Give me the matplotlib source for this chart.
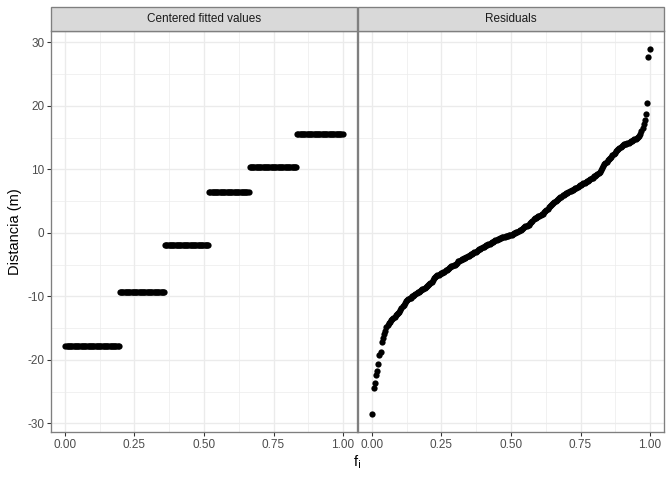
import numpy as np
import matplotlib
matplotlib.use("Agg")
import matplotlib.pyplot as plt
from matplotlib.patches import Rectangle

plt.rcParams['font.family'] = ['Liberation Sans', 'DejaVu Sans']
plt.rcParams['axes.unicode_minus'] = False

# fitted values: one level per group and how many observations it has
fitted_levels = [-17.9, -9.25, -1.93, 6.43, 10.35, 15.48]
fitted_counts = [47, 39, 38, 35, 41, 40]

# residuals (sorted)
residuals = [
    -28.5, -24.4, -23.6, -22.4, -21.8, -20.6, -19.3, -18.8, -17.2, -16.5, -15.9, -15.4,
    -14.8, -14.5, -14.2, -14.0, -13.8, -13.6, -13.4, -13.2, -13.0, -12.8, -12.6, -12.4,
    -12.1, -11.8, -11.6, -11.3, -11.0, -10.8, -10.6, -10.5, -10.3, -10.2, -10.0, -9.9,
    -9.8, -9.7, -9.5, -9.4, -9.3, -9.1, -9.0, -8.9, -8.8, -8.7, -8.6, -8.4,
    -8.2, -8.0, -7.9, -7.7, -7.4, -7.1, -6.9, -6.8, -6.7, -6.6, -6.5, -6.4,
    -6.3, -6.2, -6.1, -5.9, -5.8, -5.7, -5.5, -5.4, -5.3, -5.2, -5.1, -5.0,
    -4.9, -4.7, -4.5, -4.4, -4.3, -4.2, -4.1, -4.0, -3.9, -3.8, -3.7, -3.6,
    -3.5, -3.4, -3.3, -3.2, -3.1, -3.0, -2.9, -2.7, -2.6, -2.5, -2.4, -2.3,
    -2.2, -2.1, -2.0, -1.9, -1.8, -1.7, -1.6, -1.5, -1.4, -1.3, -1.2, -1.1,
    -1.0, -0.95, -0.9, -0.8, -0.7, -0.65, -0.6, -0.55, -0.5, -0.45, -0.4, -0.35,
    -0.3, -0.2, -0.1, 0.0, 0.1, 0.2, 0.3, 0.4, 0.5, 0.6, 0.7, 0.9,
    1.0, 1.1, 1.2, 1.3, 1.5, 1.7, 1.9, 2.1, 2.3, 2.4, 2.5, 2.6,
    2.7, 2.8, 2.9, 3.0, 3.2, 3.4, 3.6, 3.8, 4.0, 4.2, 4.4, 4.6,
    4.7, 4.8, 5.0, 5.2, 5.3, 5.5, 5.6, 5.7, 5.9, 6.0, 6.1, 6.2,
    6.3, 6.4, 6.5, 6.6, 6.7, 6.8, 6.9, 7.0, 7.1, 7.2, 7.4, 7.5,
    7.6, 7.7, 7.8, 7.9, 8.0, 8.1, 8.2, 8.3, 8.5, 8.6, 8.7, 8.9,
    9.0, 9.1, 9.2, 9.4, 9.6, 9.9, 10.2, 10.5, 10.8, 11.0, 11.2, 11.4,
    11.6, 11.8, 12.0, 12.2, 12.4, 12.6, 12.8, 13.0, 13.2, 13.4, 13.5, 13.7,
    13.8, 13.9, 13.95, 14.0, 14.1, 14.2, 14.3, 14.4, 14.5, 14.6, 14.7, 14.8,
    14.9, 15.1, 15.3, 15.6, 16.0, 16.5, 17.2, 17.8, 18.7, 20.5, 27.7, 28.9,
]

panel_titles = ["Centered fitted values", "Residuals"]
x_ticks = [0, 0.25, 0.5, 0.75, 1.0]
x_tick_labels = ["0.00", "0.25", "0.50", "0.75", "1.00"]
y_ticks = [-30, -20, -10, 0, 10, 20, 30]
y_label = "Distancia (m)"

fitted = np.repeat(fitted_levels, fitted_counts)
resid = np.sort(np.array(residuals))
series = [fitted, resid]

# y range shared by both panels, ggplot style 5% expansion
lo = min(fitted.min(), resid.min())
hi = max(fitted.max(), resid.max())
pad = 0.05 * (hi - lo)

W, H = 672, 480
fig = plt.figure(figsize=(7, 5), dpi=96)

grid_col = "#EBEBEB"
border_col = "#333333"
text_col = "#4D4D4D"

panel_x = [(51, 357), (358, 664)]
top, bottom = 31, 432
strip_top = 7

for k, (x0, x1) in enumerate(panel_x):
    ax = fig.add_axes([x0 / W, 1 - bottom / H, (x1 - x0) / W, (bottom - top) / H])
    vals = series[k]
    n = len(vals)
    f = (np.arange(1, n + 1) - 0.5) / n
    pts = ax.scatter(f, vals, s=22, color="black", linewidths=0, zorder=3)
    pts.set_snap(False)

    ax.set_xlim(-0.05, 1.05)
    ax.set_ylim(lo - pad, hi + pad)
    ax.set_xticks(x_ticks)
    ax.set_xticklabels(x_tick_labels)
    ax.set_xticks(np.arange(0.125, 1.0, 0.25), minor=True)
    ax.set_yticks(y_ticks)
    ax.set_yticks(np.arange(-25, 30, 10), minor=True)
    ax.grid(True, which="major", color=grid_col, linewidth=1.0, zorder=0)
    ax.grid(True, which="minor", color=grid_col, linewidth=0.5, zorder=0)
    ax.set_axisbelow(True)
    ax.tick_params(which="major", length=3, width=0.8, color=border_col,
                   labelsize=8.8, labelcolor=text_col, pad=2)
    ax.tick_params(which="minor", length=0)
    for sp in ax.spines.values():
        sp.set_color("#7F7F7F")
        sp.set_linewidth(1.0)
    if k == 0:
        ax.set_ylabel(y_label, fontsize=11, color="black", labelpad=4)
    else:
        ax.tick_params(axis="y", which="major", length=0, labelleft=False)

    # facet strip
    sax = fig.add_axes([x0 / W, 1 - top / H, (x1 - x0) / W, (top - strip_top) / H])
    sax.set_xlim(0, 1)
    sax.set_ylim(0, 1)
    sax.axis("off")
    sax.add_patch(Rectangle((0, 0), 1, 1, facecolor="#D9D9D9", edgecolor="#7F7F7F",
                            linewidth=1.0, transform=sax.transAxes, clip_on=False))
    sax.text(0.5, 0.5, panel_titles[k], ha="center", va="center",
             fontsize=8.8, color="#1A1A1A")

fig.text(357 / W, 1 - 462 / H, r"f$_\mathrm{i}$", ha="center", va="center",
         fontsize=11, color="black")

fig.savefig("out.png", dpi=96)
